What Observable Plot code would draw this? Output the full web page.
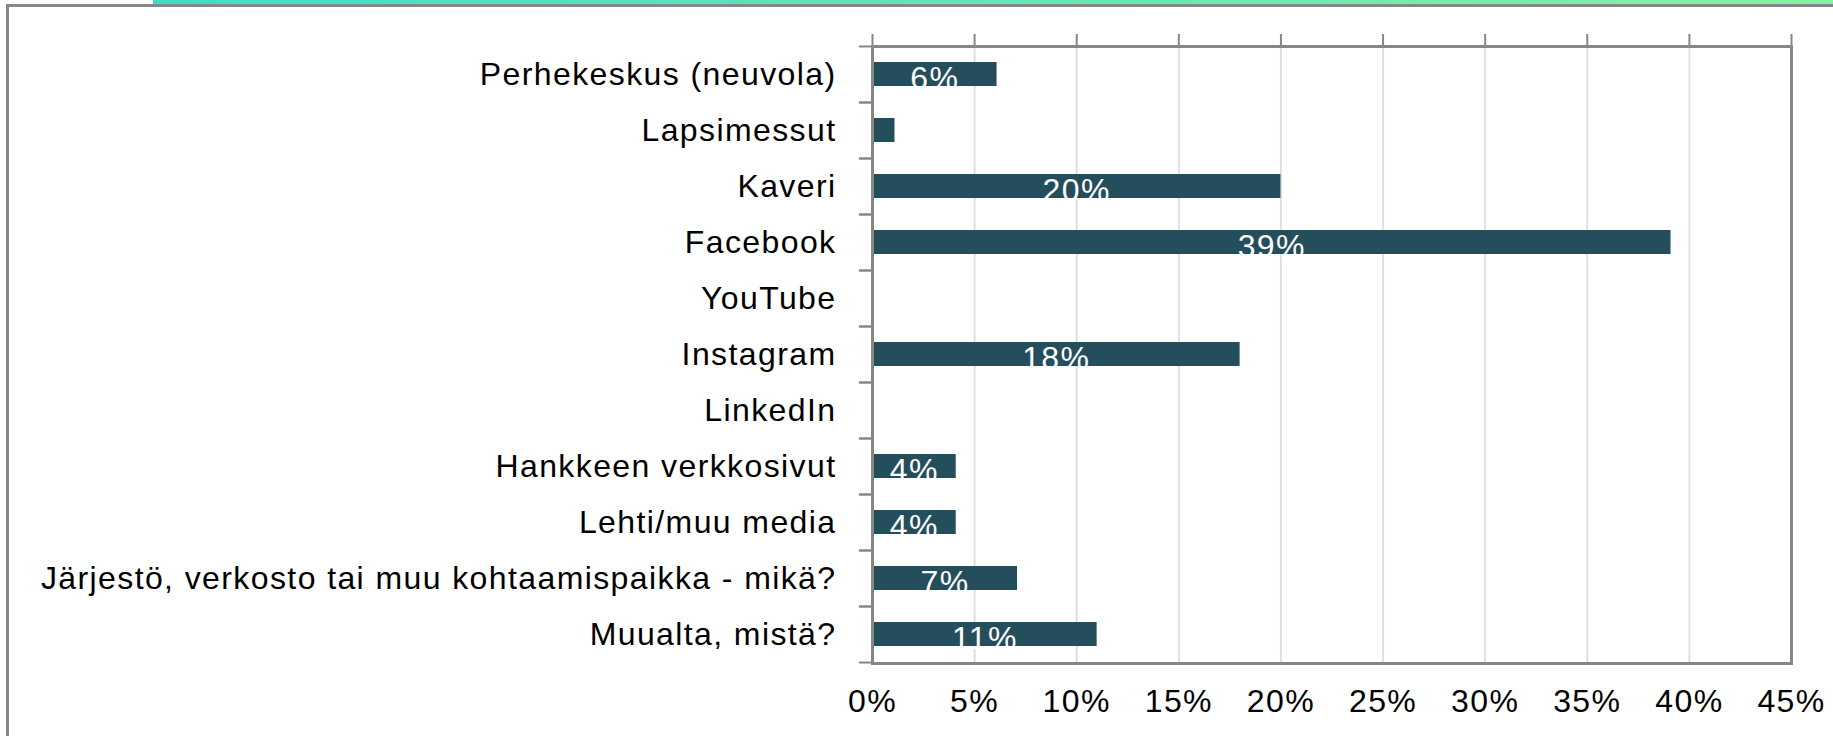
<!DOCTYPE html>
<html>
<head>
<meta charset="utf-8">
<script src="https://cdn.jsdelivr.net/npm/d3@7"></script>
<script src="https://cdn.jsdelivr.net/npm/@observablehq/plot@0.6"></script>
<style>
  html, body { margin: 0; padding: 0; background: #fff; }
  #wrap { position: relative; width: 1833px; height: 736px; overflow: hidden; }
  #wrap svg { position: absolute; left: 0; top: 0; }
  .deco { position: absolute; }
</style>
</head>
<body>
<div id="wrap">
  <div class="deco" style="left:153px;top:0;width:1680px;height:4px;background:linear-gradient(to right,#3ddfc9,#86f1a2);"></div>
  <div class="deco" style="left:6px;top:4px;right:0;height:3px;background:#878787;"></div>
  <div class="deco" style="left:6px;top:4px;width:3px;bottom:0;background:#878787;"></div>
</div>
<script>
const categories = [
  "Perhekeskus (neuvola)",
  "Lapsimessut",
  "Kaveri",
  "Facebook",
  "YouTube",
  "Instagram",
  "LinkedIn",
  "Hankkeen verkkosivut",
  "Lehti/muu media",
  "Järjestö, verkosto tai muu kohtaamispaikka - mikä?",
  "Muualta, mistä?"
];
const values = [6.1, 1.1, 20.0, 39.1, 0, 18.0, 0, 4.1, 4.1, 7.1, 11.0];
const valueLabels = ["6%", "", "20%", "39%", "", "18%", "", "4%", "4%", "7%", "11%"];
const xTicks = [0, 5, 10, 15, 20, 25, 30, 35, 40, 45];

const data = categories.map((c, i) => ({category: c, value: values[i], label: valueLabels[i]}));

const font = "'Liberation Sans', Arial, sans-serif";
const half = 28.03;

const chart = Plot.plot({
  width: 1833,
  height: 736,
  marginLeft: 872,
  marginRight: 42,
  marginTop: 46,
  marginBottom: 73,
  style: {fontFamily: font, fontSize: "32px", letterSpacing: "1.4px", background: "transparent", color: "#000", overflow: "visible"},
  x: {domain: [0, 45]},
  y: {domain: categories, paddingInner: 0.57, paddingOuter: 0.285},
  marks: [
    Plot.gridX(xTicks, {stroke: "#e0e0e0", strokeOpacity: 1, strokeWidth: 2}),
    Plot.barX(data, {x: "value", y: "category", fill: "#254e5c"}),
    Plot.text(data, {x: d => d.value / 2, y: "category", text: "label", fill: "#ffffff", fontSize: 32, dy: 4}),
    Plot.frame({stroke: "#878787", strokeWidth: 3}),
    Plot.axisX(xTicks, {anchor: "top", tickSize: 13, tickFormat: () => "", stroke: "#878787", strokeWidth: 2, strokeOpacity: 1, label: null}),
    Plot.axisX(xTicks, {anchor: "bottom", tickSize: 0, tickPadding: 26, tickFormat: d => d + "%", fontSize: 32, fill: "#000", label: null}),
    Plot.axisY({anchor: "left", tickSize: 0, tickPadding: 36, fontSize: 32, fill: "#000", label: null}),
    Plot.axisY({anchor: "left", tickSize: 13, tickFormat: () => "", dy: -half, stroke: "#878787", strokeWidth: 2, strokeOpacity: 1, label: null}),
    Plot.axisY({anchor: "left", tickSize: 13, tickFormat: () => "", dy: half, stroke: "#878787", strokeWidth: 2, strokeOpacity: 1, label: null})
  ]
});
document.getElementById("wrap").prepend(chart);
</script>
</body>
</html>
